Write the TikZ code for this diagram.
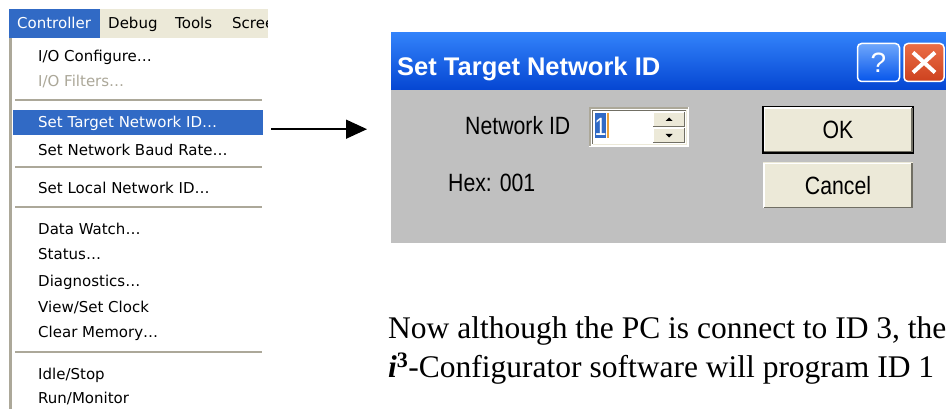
\documentclass[tikz,border=0pt]{standalone}
\usepackage{fontspec}
\setmainfont{Liberation Serif}
\newfontfamily\menufont{DejaVu Sans}
\newfontfamily\dlgfont[FakeStretch=0.85]{Liberation Sans}
\newfontfamily\capfont{Liberation Sans}
\usetikzlibrary{arrows.meta}
\definecolor{xpblue}{RGB}{49,106,197}
\definecolor{xpbeige}{RGB}{236,233,216}
\definecolor{xpgray}{RGB}{172,168,153}
\definecolor{xpdark}{RGB}{113,111,100}
\definecolor{dlggray}{RGB}{192,192,192}
\definecolor{tbtop}{RGB}{50,130,250}
\definecolor{tbmid}{RGB}{5,85,235}
\definecolor{tbbot}{RGB}{5,70,210}
\definecolor{closetop}{RGB}{235,110,70}
\definecolor{closebot}{RGB}{205,65,30}
\definecolor{caret}{RGB}{232,160,60}
\tikzset{
  menu/.style={anchor=base west,inner sep=0,font=\menufont\fontsize{15}{18}\selectfont},
  dlgtext/.style={anchor=base west,inner sep=0,font=\dlgfont\fontsize{25}{30}\selectfont},
  xpbtn/.style={fill=xpbeige,minimum width=150pt,minimum height=46pt,inner sep=0,font=\dlgfont\fontsize{25}{30}\selectfont},
  spinbtn/.style={fill=xpbeige,minimum width=32pt,minimum height=15pt,inner sep=0},
  linkarrow/.style={-{Triangle[length=21pt,width=19pt]},line width=1.4pt}
}

\begin{document}
\begin{tikzpicture}[x=1pt,y=-1pt]
\useasboundingbox (0,0) rectangle (946,409); \clip (0,0) rectangle (946,409);
% menu bar
\fill[xpbeige] (100,9) rectangle (268,38); \fill[xpblue] (9,9) rectangle (100,38);
\node[menu,white] (ctrl) at (17,29) {Controller};
\begin{scope}
\clip (100,9) rectangle (267,38);
\node[menu] (dbg) at (108,29) {Debug}; \node[menu] (tls) at (175,29) {Tools}; \node[menu] (scr) at (232,29) {Screen};
\end{scope}
% drop-down list
\fill[white] (9,38) rectangle (265,409); \draw[xpgray,line width=3pt] (10.5,38) -- (10.5,409);
\foreach \y in {100,167,207,352} \draw[xpgray,line width=1.2pt] (15,\y) -- (262,\y);
\node[fill=xpblue,minimum width=250pt,minimum height=25pt,anchor=north west,inner sep=0] (target) at (13,110) {};
\node[menu] (io) at (38,62) {I/O Configure…}; \node[menu,xpgray] (filt) at (38,87) {I/O Filters…};
\node[menu,white] (tid) at (38,128) {Set Target Network ID…}; \node[menu] (baud) at (38,156) {Set Network Baud Rate…};
\node[menu] (lid) at (38,194) {Set Local Network ID…};
\node[menu] (watch) at (38,235) {Data Watch…}; \node[menu] (stat) at (38,259) {Status…};
\node[menu] (diag) at (38,287) {Diagnostics…}; \node[menu] (clk) at (38,312) {View/Set Clock};
\node[menu] (mem) at (38,337) {Clear Memory…};
\node[menu] (idle) at (38,379) {Idle/Stop}; \node[menu] (run) at (38,403) {Run/Monitor};
% dialog
\node[fill=dlggray,minimum width=560pt,minimum height=210pt,anchor=north west,inner sep=0] (dlg) at (391,33) {};
\shade[top color=tbtop,middle color=tbmid,bottom color=tbbot] (391,33) rectangle (951,90);
\node[anchor=base west,inner sep=0,text=white,font=\capfont\bfseries\fontsize{25.5}{30}\selectfont] (title) at (397,76) {Set Target Network ID};
\node[rounded corners=4pt,draw=white,line width=1.5pt,top color=tbtop!70!white,bottom color=tbmid,minimum width=42pt,minimum height=38pt,inner sep=0,text=white,font=\capfont\fontsize{28}{30}\selectfont] (help) at (878.5,62.5) {?};
\node[rounded corners=4pt,draw=white,line width=1.5pt,top color=closetop,bottom color=closebot,minimum width=40pt,minimum height=38pt,inner sep=0] (close) at (924,62.5) {};
\draw[white,line width=4pt] ([shift={(-11,-10)}]close.center) -- ([shift={(11,10)}]close.center);
\draw[white,line width=4pt] ([shift={(-11,10)}]close.center) -- ([shift={(11,-10)}]close.center);
\node[dlgtext] (netid) at (465,135) {Network ID}; \node[dlgtext] (hex) at (448,192) {Hex: 001};
% spin box
\fill[white] (589,107) rectangle (689,147);
\draw[xpgray,line width=2pt] (590,146) -- (590,108) -- (688,108);
\draw[xpdark,line width=1.5pt] (592.5,144) -- (592.5,110.5) -- (686,110.5);
\draw[xpbeige,line width=1.5pt] (592.5,144.5) -- (686.5,144.5) -- (686.5,110.5);
\fill[xpblue] (595,113) rectangle (606,138); \draw[caret,line width=1.2pt] (608,113) -- (608,138);
\node[dlgtext,white,anchor=base] (val) at (600.5,136) {1};
\node[spinbtn] (up) at (669,119.5) {}; \node[spinbtn] (dn) at (669,135.5) {};
\foreach \b in {up,dn} {
  \draw[white,line width=1pt] ([shift={(0.5,-0.5)}]\b.south west) |- ([shift={(-0.5,0.5)}]\b.north east);
  \draw[xpdark,line width=1pt] ([shift={(0.5,-0.5)}]\b.south west) -| ([shift={(-0.5,0.5)}]\b.north east);
}
\fill ([shift={(-3.5,1.5)}]up.center) -- ([shift={(3.5,1.5)}]up.center) -- ([shift={(0,-2)}]up.center) -- cycle;
\fill ([shift={(-3.5,-1.5)}]dn.center) -- ([shift={(3.5,-1.5)}]dn.center) -- ([shift={(0,2)}]dn.center) -- cycle;
% buttons
\node[xpbtn,draw=black,line width=1.5pt] (ok) at (838,130) {OK};
\node[xpbtn] (cancel) at (838,185.5) {Cancel};
\foreach \b/\s in {ok/2,cancel/1} {
  \draw[white,line width=1.5pt] ([shift={(\s,-\s)}]\b.south west) |- ([shift={(-\s,\s)}]\b.north east);
  \draw[xpdark,line width=1.5pt] ([shift={(\s,-\s)}]\b.south west) -| ([shift={(-\s,\s)}]\b.north east);
}
% arrow from menu item to dialog
\draw[linkarrow,shorten <=8pt,shorten >=24pt] ([yshift=-6.5pt]target.east) -- ([yshift=-6.5pt]target.east -| dlg.west);
% note below
\node[anchor=base west,inner sep=0,font=\fontsize{31.5}{39}\selectfont] (lineA) at (388,338) {Now although the PC is connect to ID 3, the};
\node[anchor=base west,inner sep=0,font=\fontsize{31.5}{39}\selectfont] (lineB) at ([yshift=-39pt]lineA.base west) {\textbf{\textit{i}}\textsuperscript{\textbf{3}}-Configurator software will program ID 1};
\end{tikzpicture}
\end{document}
